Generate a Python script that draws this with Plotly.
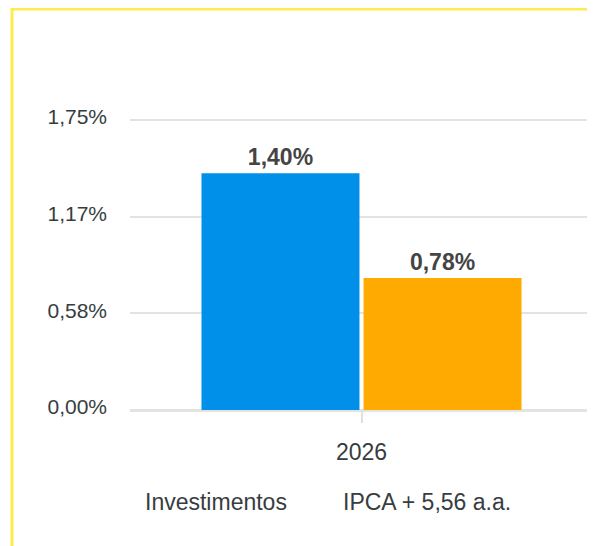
import plotly.graph_objects as go

# ---- data ----
categories = ["2026"]
series_names = ["Investimentos", "IPCA + 5,56 a.a."]
series_values = [1.40, 0.78]
value_labels = ["1,40%", "0,78%"]
tick_labels = ["0,00%", "0,58%", "1,17%", "1,75%"]
colors = ["#0090EA", "#FFAA00"]

# axis top as drawn in the reference (bars reach slightly higher than labels suggest)
y_max = 1.715
tick_vals = [y_max * i / 3 for i in range(4)]

# the page body adds an 8px margin; size the figure to fill the rest of the window
OFF = 8
W, H = 595 - OFF, 546 - OFF
GAP = 4                      # px between plot top and top gridline
L, R, T = 122, 2, 112 - GAP
B = H - (410 - OFF)
pw, ph = W - L - R, H - T - B
y_top = y_max * ph / (ph - GAP)

def px_x(px):  # screenshot pixel -> paper
    return (px - OFF - L) / pw

def px_y(py):
    return (H - B - (py - OFF)) / ph

FONT = "Liberation Sans, Arial, Helvetica, sans-serif"
TXT = "#373d3f"

fig = go.Figure()
for name, val, lab, col in zip(series_names, series_values, value_labels, colors):
    fig.add_trace(go.Bar(
        x=categories, y=[val], name=name,
        marker=dict(color=col, line=dict(width=0)),
        text=[lab], textposition="outside",
        textfont=dict(family=FONT, size=23, color="#444444", weight="bold"),
        cliponaxis=False, showlegend=False,
    ))

fig.update_layout(
    width=W, height=H,
    margin=dict(l=L, r=R, t=T, b=B, pad=0),
    paper_bgcolor="white", plot_bgcolor="white",
    barmode="group", bargap=0.3, bargroupgap=0.025,
    font=dict(family=FONT, color=TXT),
    showlegend=False,
)
fig.update_yaxes(
    range=[0, y_top], tickvals=tick_vals, ticktext=tick_labels,
    showgrid=True, gridcolor="#e3e3e3", gridwidth=1.5,
    zeroline=True, zerolinecolor="#e3e3e3", zerolinewidth=3,
    showline=False, ticks="", ticklabelstandoff=22, ticklabelshift=-3,
    tickfont=dict(family=FONT, size=21, color=TXT),
    fixedrange=True,
)
fig.update_xaxes(
    showgrid=False, showline=False, zeroline=False,
    ticks="outside", ticklen=12, tickwidth=2, tickcolor="#e0e0e0",
    tickson="labels", ticklabelstandoff=9,
    tickfont=dict(family=FONT, size=23, color=TXT),
    fixedrange=True,
)

# legend as plain text (the reference shows no swatches)
legend_x = [215.5, 426.5]
for name, lx in zip(series_names, legend_x):
    fig.add_annotation(
        x=px_x(lx), y=px_y(501.5), xref="paper", yref="paper",
        text=name, showarrow=False, xanchor="center", yanchor="middle",
        font=dict(family=FONT, size=23, color=TXT),
    )

# yellow frame lines (left and top)
yellow = "#FDEB4F"
fig.add_shape(type="line", xref="paper", yref="paper",
              x0=px_x(12), x1=px_x(12), y0=px_y(0), y1=px_y(560),
              line=dict(color=yellow, width=3))
fig.add_shape(type="line", xref="paper", yref="paper",
              x0=px_x(12), x1=px_x(595), y0=px_y(9), y1=px_y(9),
              line=dict(color=yellow, width=3))

fig.write_html("out.html", config={"displayModeBar": False})
